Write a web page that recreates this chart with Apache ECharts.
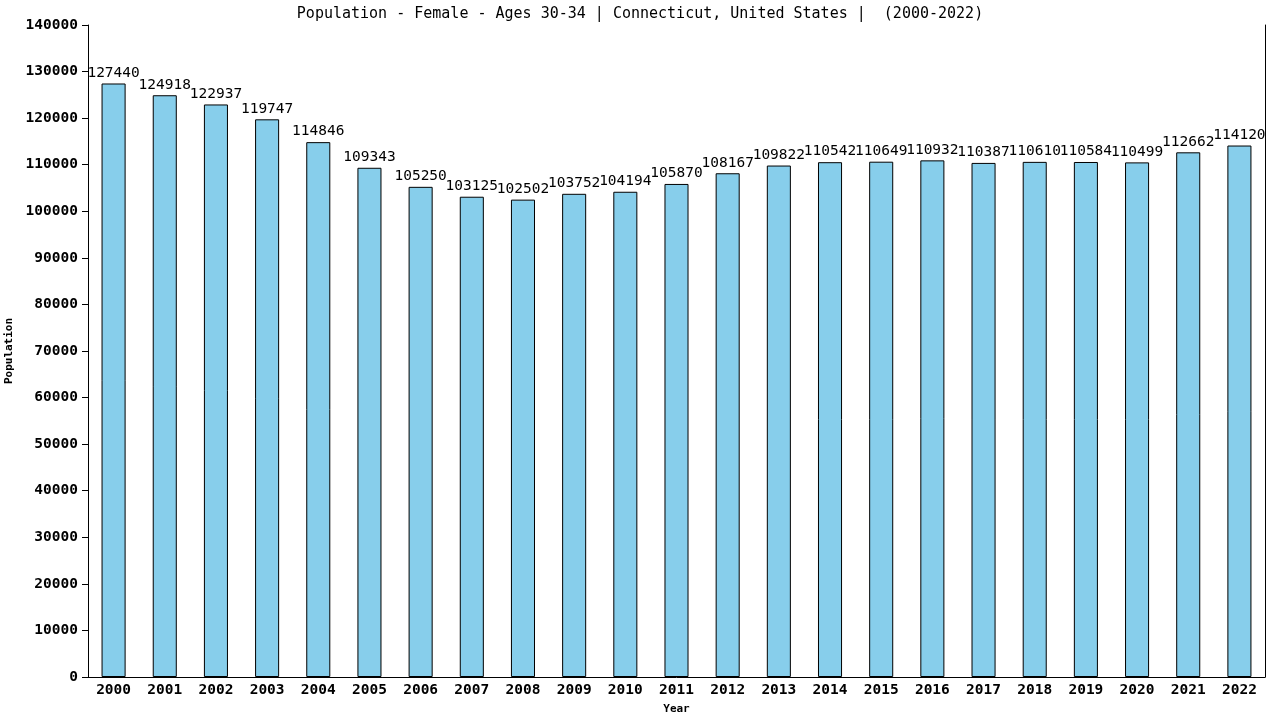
<!DOCTYPE html>
<html>
<head>
<meta charset="utf-8">
<script src="https://cdn.jsdelivr.net/npm/echarts@6/dist/echarts.min.js"></script>
<style>
  html, body { margin: 0; padding: 0; background: #fff; }
  #myChart { width: 1280px; height: 720px; }
</style>
</head>
<body>
<div id="myChart"></div>
<script>
var years = ['2000', '2001', '2002', '2003', '2004', '2005', '2006', '2007', '2008', '2009', '2010', '2011',
    '2012', '2013', '2014', '2015', '2016', '2017', '2018', '2019', '2020', '2021', '2022'];
var population = [127440, 124918, 122937, 119747, 114846, 109343, 105250, 103125, 102502, 103752, 104194, 105870,
    108167, 109822, 110542, 110649, 110932, 110387, 110610, 110584, 110499, 112662, 114120];
var titleText = 'Population - Female - Ages 30-34 | Connecticut, United States |  (2000-2022)';

var mono = 'DejaVu Sans Mono';
var myChart = echarts.init(document.getElementById('myChart'));

var option = {
    animation: false,
    title: {
        text: titleText,
        left: 'center',
        top: 2,
        textStyle: {fontFamily: mono, fontSize: 15, fontWeight: 'normal', color: '#000'}
    },
    grid: {left: 88, right: 15, top: 25, bottom: 43, containLabel: false, outerBoundsMode: 'none'},
    xAxis: {
        type: 'category',
        data: years,
        name: 'Year',
        nameLocation: 'middle',
        nameGap: 27,
        nameTextStyle: {fontFamily: mono, fontSize: 11, fontWeight: 'bold', color: '#000'},
        axisLine: {lineStyle: {color: '#000', width: 1}},
        axisTick: {show: false},
        axisLabel: {fontFamily: mono, fontSize: 14.5, fontWeight: 'bold', color: '#000', margin: 6}
    },
    yAxis: [{
        type: 'value',
        min: 0,
        max: 140000,
        interval: 10000,
        name: 'Population',
        nameLocation: 'middle',
        nameGap: 70,
        nameTextStyle: {fontFamily: mono, fontSize: 11, fontWeight: 'bold', color: '#000'},
        axisLine: {show: true, lineStyle: {color: '#000', width: 1}},
        axisTick: {show: true, length: 6, lineStyle: {color: '#000'}},
        axisLabel: {
            fontFamily: mono, fontSize: 14.5, fontWeight: 'bold', color: '#000', margin: 10,
            formatter: function (v) { return String(v); }
        },
        splitLine: {show: false}
    }, {
        type: 'value',
        position: 'right',
        min: 0,
        max: 140000,
        axisLine: {show: true, lineStyle: {color: '#000', width: 1}},
        axisTick: {show: false},
        axisLabel: {show: false},
        splitLine: {show: false}
    }],
    series: [{
        type: 'bar',
        data: population,
        barWidth: '47%',
        itemStyle: {color: '#87CEEB', borderColor: '#000', borderWidth: 1},
        label: {
            show: true,
            position: 'top',
            distance: 3,
            fontFamily: mono,
            fontSize: 14.5,
            color: '#000'
        }
    }]
};

myChart.setOption(option);
</script>
</body>
</html>
